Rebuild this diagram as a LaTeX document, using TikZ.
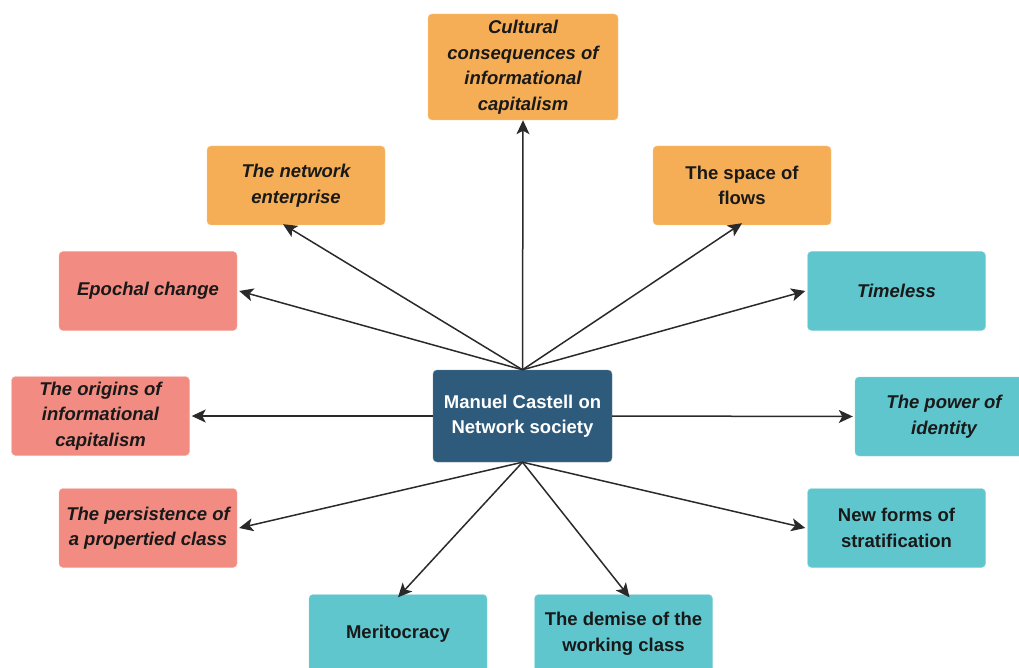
\documentclass[tikz,border=0pt]{standalone}
\usepackage{fontspec}
\setmainfont{Liberation Sans}
\usetikzlibrary{arrows.meta}
\definecolor{orng}{HTML}{F5AE56}
\definecolor{salm}{HTML}{F28C82}
\definecolor{teal}{HTML}{5FC6CD}
\definecolor{navy}{HTML}{2E5A7C}
\definecolor{edgec}{HTML}{2A2A2A}
\tikzset{
  box/.style={rectangle, rounded corners=4pt, minimum width=178pt, minimum height=79pt,
    align=center, inner sep=0pt, font=\fontsize{18.5}{25.5}\selectfont\bfseries, text=black!90,
    draw=white!85!black, line width=0.4pt},
  obox/.style={box, fill=orng, draw=orng!70!white},
  sbox/.style={box, fill=salm, draw=salm!70!white},
  tbox/.style={box, fill=teal, draw=teal!70!white},
  it/.style={font=\fontsize{18.5}{25.5}\selectfont\bfseries\itshape},
  conn/.style={draw=edgec, line width=1.5pt, -{Stealth[length=14pt,width=13pt,inset=3.5pt]}}
}
\begin{document}
\begin{tikzpicture}[x=1pt,y=-1pt]
\useasboundingbox (0,0) rectangle (1019,668);
\clip (0,0) rectangle (1019,668);
\node[box, fill=navy, draw=navy!70!white, text=white, minimum width=179pt, minimum height=92pt] (c) at (522.5,416) {Manuel Castell on\\Network society};
\node[obox, it, minimum width=190pt, minimum height=106pt] (cult) at (523,67) {Cultural\\consequences of\\informational\\capitalism};
\node[obox, it] (ne) at (296,185.5) {The network\\enterprise};
\node[obox] (sof) at (742,185.5) {The space of\\flows};
\node[sbox, it] (ep) at (148,291) {Epochal change};
\node[tbox, it] (tl) at (896.5,291) {Timeless};
\node[sbox, it] (orig) at (100.5,416) {The origins of\\informational\\capitalism};
\node[tbox, it] (pow) at (944,416.5) {The power of\\identity};
\node[sbox, it] (pc) at (148,528) {The persistence of\\a propertied class};
\node[tbox] (nf) at (896.5,528) {New forms of\\stratification};
\node[tbox] (mer) at (398,634) {Meritocracy};
\node[tbox] (dem) at (623.5,634) {The demise of the\\working class};
\draw[conn] (c.north) -- (cult.south);
\draw[conn] (c.north) -- ([xshift=-13pt,yshift=1pt]ne.south);
\draw[conn] (c.north) -- ([yshift=2pt]sof.south);
\draw[conn] (c.north) -- ([xshift=2pt]ep.east);
\draw[conn] (c.north) -- ([xshift=-2pt]tl.west);
\draw[conn] (c.west) -- ([xshift=2pt]orig.east);
\draw[conn] (c.east) -- ([xshift=-2pt]pow.west);
\draw[conn] (c.south) -- ([xshift=2pt]pc.east);
\draw[conn] (c.south) -- ([xshift=-2pt]nf.west);
\draw[conn] (c.south) -- ([yshift=-3pt]mer.north);
\draw[conn] (c.south) -- ([xshift=6pt,yshift=-3pt]dem.north);
\end{tikzpicture}
\end{document}
